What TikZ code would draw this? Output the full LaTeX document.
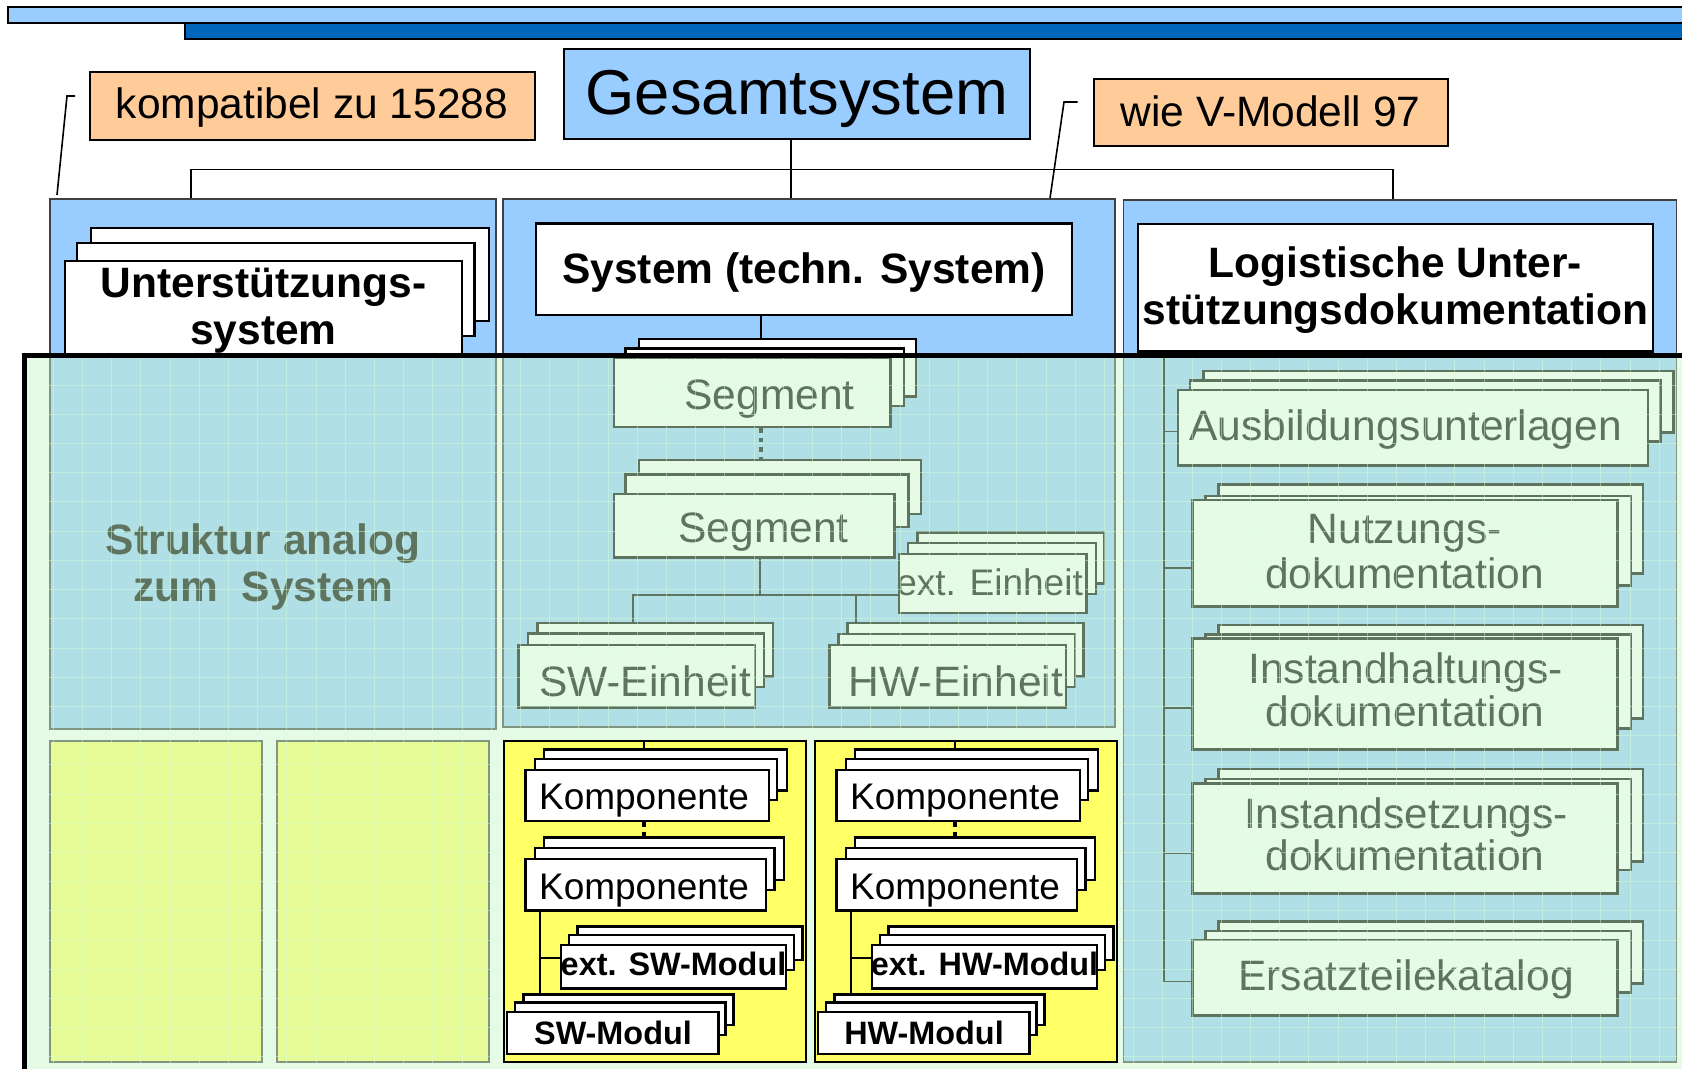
\documentclass[tikz,border=0pt]{standalone}
\usepackage{fontspec}
\setmainfont{Liberation Sans}
\usetikzlibrary{fit}

\definecolor{paleblue}{RGB}{153,204,255}
\definecolor{deepblue}{RGB}{0,102,187}
\definecolor{apricot}{RGB}{255,204,153}
\definecolor{lemon}{RGB}{255,255,102}
\definecolor{mint}{RGB}{202,247,202}
\definecolor{gridgreen}{RGB}{215,255,215}

\tikzset{
  barlight/.style={draw=black, line width=1pt, fill=paleblue},
  bardark/.style={draw=black, line width=1pt, fill=deepblue},
  notebox/.style={draw=black, line width=1pt, fill=apricot},
  headbox/.style={draw=black, line width=1pt, fill=paleblue},
  panel/.style={draw=black!75, line width=0.8pt, fill=paleblue},
  paleyel/.style={draw=black!75, line width=0.8pt, fill=lemon},
  modbox/.style={draw=black, line width=1pt, fill=lemon},
  sheet/.style={draw=black, line width=1.3pt, fill=white},
  wire/.style={draw=black, line width=0.8pt},
  dotwire/.style={draw=black, line width=1.9pt, dash pattern=on 2.2pt off 2.6pt},
  gridline/.style={draw=gridgreen, line width=0.5pt, opacity=0.45},
  lbl/.style={inner sep=0pt, anchor=base},
  fhuge/.style={font=\fontsize{31.7pt}{36pt}\selectfont},
  fbig/.style={font=\fontsize{21.25pt}{25pt}\selectfont},
  fbigb/.style={font=\fontsize{21.25pt}{25pt}\selectfont\bfseries},
  fkomp/.style={font=\fontsize{18.5pt}{22pt}\selectfont},
  fmod/.style={font=\fontsize{16.2pt}{19pt}\selectfont\bfseries},
}

% a rectangle node spanning two corner points
\newcommand\boxnode[3]{\node[#1, inner sep=0pt, fit={#2}] (#3) {};}
% a pile of three sheets: back, middle, front
\newcommand\stack[7]{%
  \boxnode{sheet}{#1 #2}{#7b}%
  \boxnode{sheet}{#3 #4}{#7m}%
  \boxnode{sheet}{#5 #6}{#7}}

% one module column (SW or HW) on its yellow box
\newcommand\modcol[3]{%
  \begin{scope}[xshift=#1]
    \boxnode{modbox}{(504,741.3) (806.3,1062.3)}{#2box}
    \stack{(544,749.3)}{(786.8,790.7)}{(535,759)}{(777,800)}{(525.6,770)}{(769,821)}{#2ka}
    \node[lbl,fkomp] (#2tka) at (644,809) {Komponente};
    \stack{(544,837.7)}{(784,880)}{(535,848)}{(774.4,890)}{(525.6,859)}{(766,910.7)}{#2kb}
    \node[lbl,fkomp] (#2tkb) at (644,899) {Komponente};
    \stack{(577.4,926.7)}{(802.6,960)}{(569,935)}{(794,970)}{(561,945)}{(786,988.3)}{#2ext}
    \node[lbl,fmod] (#2text) at (673.5,975) {ext. #3-Modul};
    \stack{(523.5,994.3)}{(733.7,1025)}{(515,1002.7)}{(725.4,1035)}{(507,1012)}{(718.4,1054)}{#2mod}
    \node[lbl,fmod] (#2tmod) at (613,1044) {#3-Modul};
    \draw[wire] (#2box.north -| 643.8,0) -- (#2kab.north -| 643.8,0);
    \draw[dotwire] (#2ka.south -| 643.8,0) -- (#2kbb.north -| 643.8,0);
    \draw[wire] (#2kb.south -| 540,0) -- (#2modb.north -| 540,0);
    \draw[wire] (540,957.7) -- (#2ext.west |- 0,957.7);
  \end{scope}}

\begin{document}
\begin{tikzpicture}[x=0.5pt, y=-0.5pt]
\useasboundingbox (0,0) rectangle (1682,1069);
\clip (0,0) rectangle (1682,1069);

% header bars
\boxnode{barlight}{(8,7.5) (1700,23)}{barA}
\boxnode{bardark}{(184.5,23) (1700,39)}{barB}

% title and notes
\boxnode{notebox}{(90,72) (535,140)}{kompat}
\node[lbl,fbig] (tkompat) at (312,119) {kompatibel zu 15288};
\boxnode{headbox}{(564,49) (1030,139)}{gesamt}
\node[lbl,fhuge] (tgesamt) at (797,115) {Gesamtsystem};
\boxnode{notebox}{(1093.5,79) (1447.5,146)}{vmod}
\node[lbl,fbig] (tvmod) at (1270.5,126.5) {wie V-Modell 97};

% three columns
\boxnode{panel}{(50,199) (496,729)}{pleft}
\boxnode{panel}{(503,199) (1115,727)}{pmid}
\boxnode{panel}{(1123.5,200) (1676.5,1062)}{pright}

% note brackets
\coordinate (kq1) at (75,96);
\coordinate (kq2) at (57,195);
\draw[wire] (kq1) -- ++(-8,0) -- (kq2);
\coordinate (vq1) at (1077.5,102);
\draw[wire] (vq1) -- ++(-13.5,0) -- (pmid.north -| 1050,0);

% top level tree
\draw[wire] (gesamt.south -| 791,0) -- (pmid.north -| 791,0);
\draw[wire] (191,0 |- pleft.north) -- (191,169.5) -- (1393,169.5) -- (1393,0 |- pright.north);

% lower left boxes
\boxnode{paleyel}{(50,741) (262,1062)}{lya}
\boxnode{paleyel}{(277,741) (489,1062)}{lyb}

% left column
\stack{(91,228)}{(489,321)}{(77,243)}{(474.5,336)}{(65,261)}{(462,357)}{unt}
\node[lbl,fbigb] (tunta) at (263.5,298) {Unterstützungs-};
\node[lbl,fbigb] (tuntb) at (263.5,344.5) {system};
\node[lbl,fbigb] (tstra) at (263,554) {Struktur analog};
\node[lbl,fbigb] (tstrb) at (263,601.7) {zum\ \ System};

% middle column
\boxnode{sheet}{(536,223.6) (1072,315)}{sys}
\node[lbl,fbigb] (tsys) at (804,283.6) {System (techn. System)};
\stack{(639,339)}{(915.8,396.8)}{(625.6,348.6)}{(904,406)}{(614,358)}{(890.5,427)}{sega}
\node[lbl,fbig] (tsega) at (769.6,410) {Segment};
\stack{(639,460)}{(921,514)}{(625.6,474.6)}{(908.4,527)}{(614,494)}{(894.7,557.5)}{segb}
\node[lbl,fbig] (tsegb) at (763.5,542.5) {Segment};
\stack{(917.5,532.5)}{(1104,583.6)}{(908,543)}{(1096,594)}{(898.8,554)}{(1086.7,613)}{exte}
\node[lbl,fkomp] (texte) at (989.6,596) {ext. Einheit};
\stack{(537.3,623)}{(772.8,676.4)}{(528,633.6)}{(764,687)}{(518.7,645)}{(755,707.5)}{swe}
\node[lbl,fbig] (tswe) at (645,696) {SW-Einheit};
\stack{(847.4,623)}{(1083.7,676.4)}{(838.7,634)}{(1075,687)}{(829.6,645)}{(1066,707.5)}{hwe}
\node[lbl,fbig] (thwe) at (956,696) {HW-Einheit};

\draw[wire] (sys.south -| 761,0) -- (segab.north -| 761,0);
\draw[dotwire] (sega.south -| 761,0) -- (segbb.north -| 761,0);
\draw[wire] (segb.south -| 760,0) -- (760,595);
\draw[wire] (633,0 |- sweb.north) -- (633,595) -- (exte.west |- 0,595);
\draw[wire] (855.7,595) -- (855.7,0 |- hweb.north);

% right column
\boxnode{sheet}{(1138,224) (1653,351.4)}{log}
\node[lbl,fbigb] (tloga) at (1395.5,278) {Logistische Unter-};
\node[lbl,fbigb] (tlogb) at (1395.5,324.6) {stützungsdokumentation};
\stack{(1203.3,371)}{(1673.2,432.7)}{(1190,380.7)}{(1660.7,441.7)}{(1177.8,390)}{(1647.8,465.7)}{aus}
\node[lbl,fbig] (taus) at (1405.7,441) {Ausbildungsunterlagen};
\stack{(1218.5,484.3)}{(1643,573.3)}{(1205.3,496)}{(1630.8,585.7)}{(1192.4,500)}{(1617.3,606.7)}{nutz}
\node[lbl,fbig] (tnutza) at (1404.7,544) {Nutzungs-};
\node[lbl,fbig] (tnutzb) at (1404.7,588.3) {dokumentation};
\stack{(1218.5,625)}{(1643,718.3)}{(1205.3,634.3)}{(1630.8,728.3)}{(1192.4,638.3)}{(1617.3,749.3)}{inh}
\node[lbl,fbig] (tinha) at (1405.5,683.3) {Instandhaltungs-};
\node[lbl,fbig] (tinhb) at (1405,726.7) {dokumentation};
\stack{(1218.5,769)}{(1643,861.7)}{(1205.3,779)}{(1630.8,870)}{(1192.4,783.3)}{(1617.3,893.3)}{ins}
\node[lbl,fbig] (tinsa) at (1405.9,828.3) {Instandsetzungs-};
\node[lbl,fbig] (tinsb) at (1405,870) {dokumentation};
\stack{(1218.5,921.7)}{(1643,983.3)}{(1205.3,931)}{(1630.8,992.3)}{(1192.4,940)}{(1617.3,1015.7)}{ers}
\node[lbl,fbig] (ters) at (1406,990.7) {Ersatzteilekatalog};

\coordinate (rail) at (log.south -| 1164,0);
\coordinate (bA) at ([yshift=-1.9pt]aus.west);
\coordinate (bN) at ([yshift=-7.2pt]nutz.west);
\coordinate (bH) at ([yshift=-6.95pt]inh.west);
\coordinate (bS) at ([yshift=-7.5pt]ins.west);
\coordinate (bE) at ([yshift=-1.9pt]ers.west);
\draw[wire] (rail) -- (rail |- bE) -- (bE);
\foreach \b in {bA,bN,bH,bS} \draw[wire] (rail |- \b) -- (\b);

% translucent structure layer with its grid and frame
\fill[mint, fill opacity=0.47] (24,356) rectangle (1700,1090);
\foreach \i in {1,...,57} \draw[gridline] ({24+29.2*\i},356) -- ({24+29.2*\i},1069);
\foreach \j in {1,...,25} \draw[gridline] (24,{356+29.2*\j}) -- (1682,{356+29.2*\j});
\draw[line width=2.5pt] (24,1090) -- (24,356) -- (1700,356);

% software and hardware modules
\modcol{0pt}{sw}{SW}
\modcol{155.5pt}{hw}{HW}
\end{tikzpicture}
\end{document}
